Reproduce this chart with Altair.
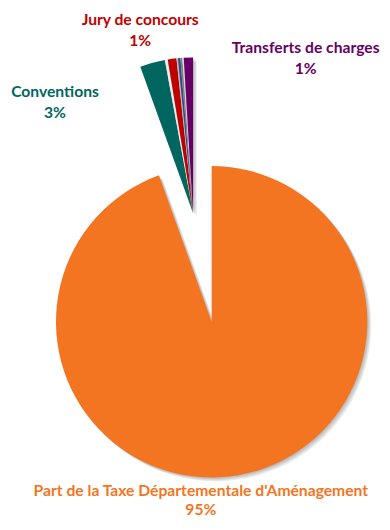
import altair as alt
import pandas as pd

# ---- data ----
categories = [
    "Part de la Taxe Départementale d'Aménagement",
    "Conventions",
    "Autres recettes 1",
    "Jury de concours",
    "Autres recettes 2",
    "Autres recettes 3",
    "Autres recettes 4",
    "Autres recettes 5",
    "Transferts de charges",
]
values = [94.5, 2.6, 0.3, 0.9, 0.15, 0.25, 0.2, 0.15, 0.95]
colors = ["#F47521", "#00665F", "#EDEDED", "#C00000", "#BFBFBF",
          "#2F4B8C", "#7F7F7F", "#D9D9D9", "#660066"]
exploded = [0, 1, 1, 1, 1, 1, 1, 1, 1]

label_names = ["Part de la Taxe Départementale d'Aménagement", "Conventions",
               "Jury de concours", "Transferts de charges"]
label_pcts = ["95%", "3%", "1%", "1%"]
label_colors = ["#F47521", "#00665F", "#C00000", "#660066"]

# ---- layout (styles / positions, not data) ----
W, H = 382, 514
R = 159
CENTER_MAIN = (208, 315)
CENTER_EXPL = (189, 204)
label_pos = {
    "Part de la Taxe Départementale d'Aménagement": (197, 488, 19),
    "Conventions": (48, 80, 21.5),
    "Jury de concours": (135, 7, 21.5),
    "Transferts de charges": (304, 35, 22),
}

df = pd.DataFrame({
    "cat": categories,
    "value": values,
    "color": colors,
    "exploded": exploded,
    "order": list(range(len(categories))),
})

base = (
    alt.Chart(df)
    .transform_window(end="sum(value)", sort=[alt.SortField("order")])
    .transform_calculate(start="datum.end - datum.value")
)

theta = alt.Theta("start:Q", scale=alt.Scale(domain=[0, 100], range=[0, 6.283185307179586]))
theta2 = alt.Theta2("end:Q")


def arcs(expl, center, shadow_offset=None):
    cx, cy = center
    ch = base.transform_filter(f"datum.exploded == {expl}")
    if shadow_offset is not None:
        d = shadow_offset
        return ch.mark_arc(radius=R, color="#000000", opacity=0.07, strokeWidth=0).encode(
            theta=theta, theta2=theta2,
            x=alt.value(cx + d), y=alt.value(cy + d),
        )
    return ch.mark_arc(radius=R, strokeWidth=0).encode(
        theta=theta, theta2=theta2,
        color=alt.Color("color:N", scale=None),
        x=alt.value(cx), y=alt.value(cy),
    )


layers = []
for d in [1, 2, 3, 4]:
    layers.append(arcs(0, CENTER_MAIN, d))
    layers.append(arcs(1, CENTER_EXPL, d))
layers.append(arcs(0, CENTER_MAIN))
layers.append(arcs(1, CENTER_EXPL))

lab_df = pd.DataFrame({
    "name": label_names,
    "pct": label_pcts,
    "col": label_colors,
})
lab_df["label"] = lab_df["name"] + "\n" + lab_df["pct"]

for name, col in zip(label_names, label_colors):
    x, y, lh = label_pos[name]
    layers.append(
        alt.Chart(lab_df)
        .transform_filter(alt.FieldEqualPredicate(field="name", equal=name))
        .mark_text(font="Lato", fontSize=16, fontWeight="bold", color=col,
                   align="center", baseline="middle", lineBreak="\n", lineHeight=lh)
        .encode(text="label:N", x=alt.value(x), y=alt.value(y))
    )

chart = (
    alt.layer(*layers)
    .properties(width=W, height=H, padding=0, autosize=alt.AutoSizeParams(type="none"))
    .configure_view(stroke=None)
)

chart.save("out.html", embed_options={"renderer": "svg", "actions": False})
